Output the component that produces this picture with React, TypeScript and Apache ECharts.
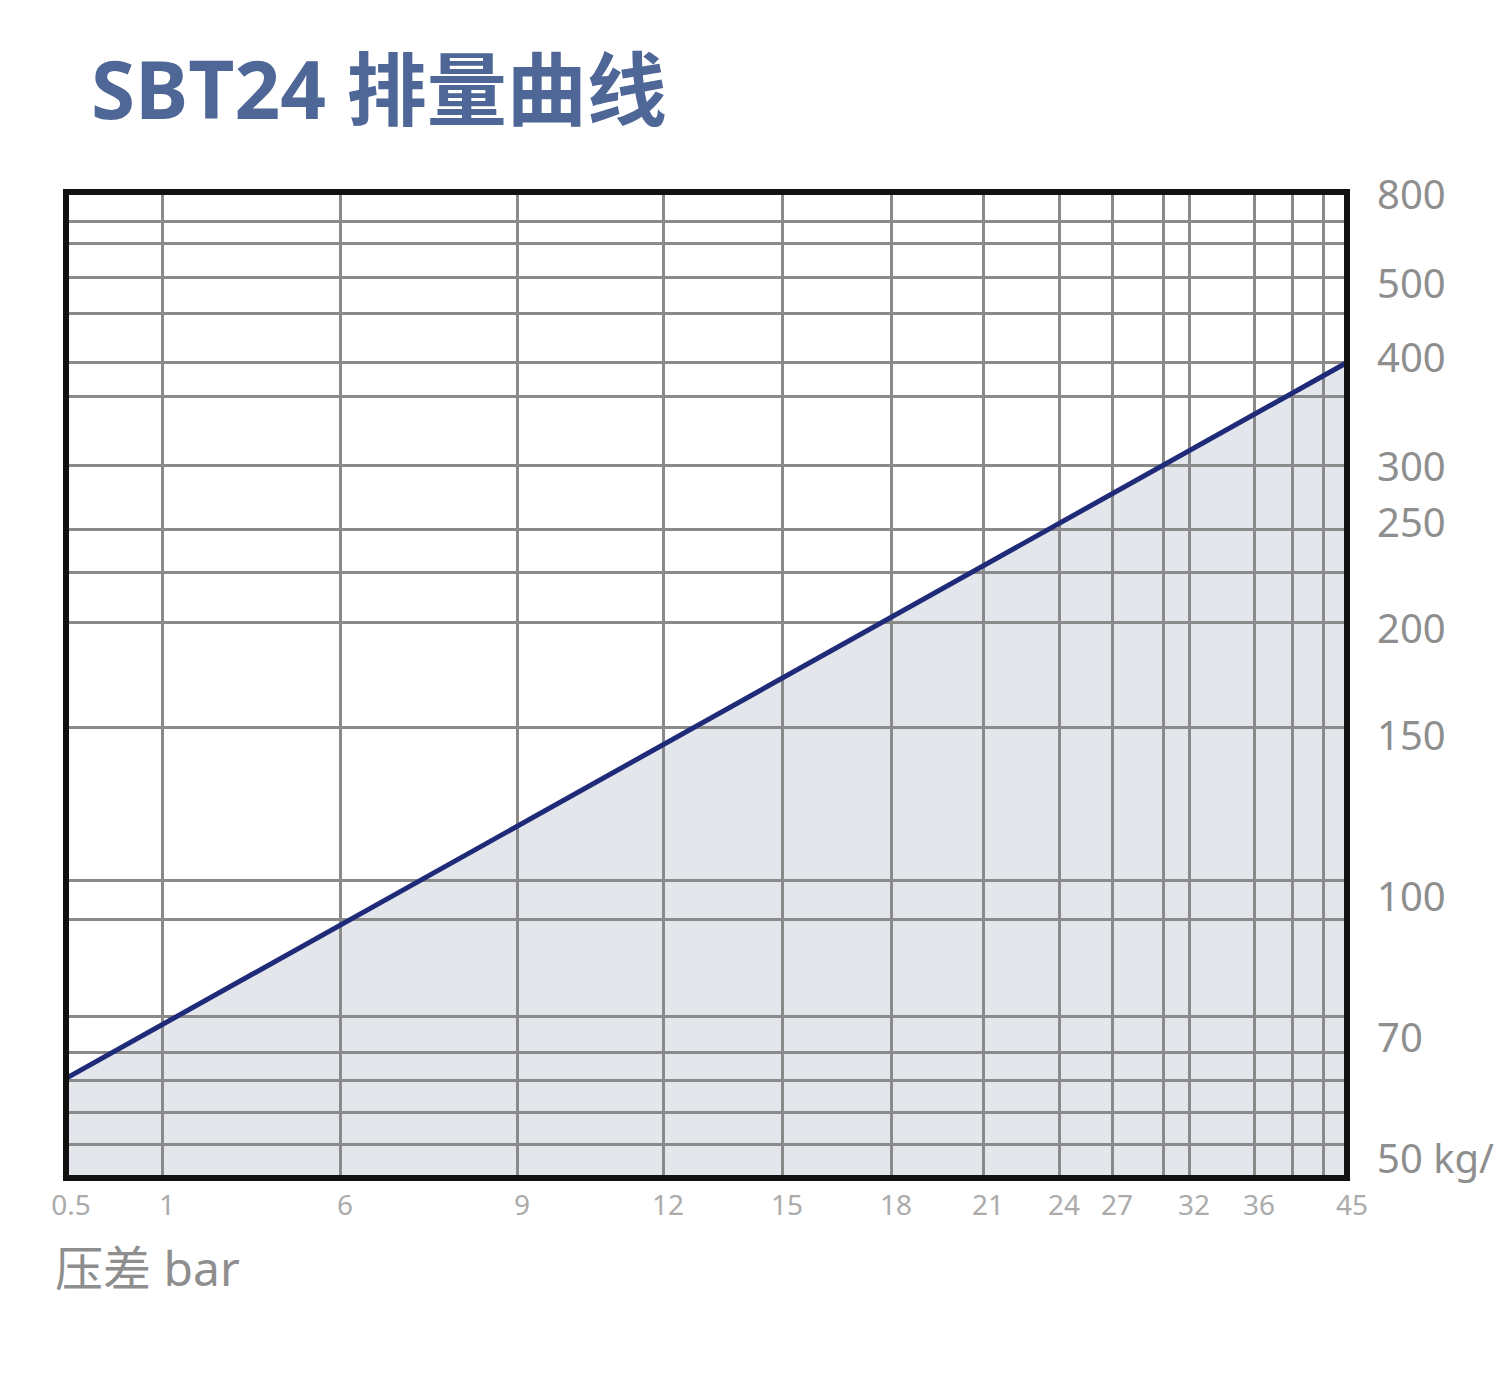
import React, { useEffect, useRef } from "react";
import * as echarts from "echarts";

// ---- data ----
const titleText = "SBT24 排量曲线";
const xAxisTitle = "压差 bar";
const pressureTicks = [0.5, 1, 6, 9, 12, 15, 18, 21, 24, 27, 32, 36, 45]; // bar
const flowTicks = [50, 70, 100, 150, 200, 250, 300, 400, 500, 800]; // kg/h
const flowUnit = "kg/";
// displacement curve (straight on this chart's non-uniform scales)
const pressure = [0.5, 45];
const flow = [63, 394];

// ---- non-uniform scale geometry (axis units along each axis) ----
const X_LEN = 1281;
const Y_LEN = 986;
const pressureStops = [0, 96, 274, 451, 597, 716, 825, 917, 993, 1046, 1123, 1188, 1281];
const flowStops = [21, 142, 283, 444, 551, 657, 713, 822, 896, 985];
const xGridLines = [96, 274, 451, 597, 716, 825, 917, 993, 1046, 1097, 1123, 1188, 1226, 1257];
const yGridLines = [957, 935, 901, 865, 816, 782, 713, 649, 606, 556, 451, 298, 259, 162, 126, 98, 66, 34];

const interp = (v: number, vals: number[], stops: number[]) => {
  let i = 0;
  if (v >= vals[vals.length - 1]) i = vals.length - 2;
  else if (v > vals[0]) {
    while (v > vals[i + 1]) i++;
  }
  const t = (v - vals[i]) / (vals[i + 1] - vals[i]);
  return stops[i] + t * (stops[i + 1] - stops[i]);
};
const toX = (p: number) => interp(p, pressureTicks, pressureStops);
const toY = (f: number) => interp(f, flowTicks, flowStops);

const FONT = '"Noto Sans", "Noto Sans CJK SC", sans-serif';

export default function App() {
  const ref = useRef<HTMLDivElement>(null);
  useEffect(() => {
    document.body.style.margin = "0";
    if (!ref.current) return;
    const chart = echarts.init(ref.current, undefined, { renderer: "svg" });
    const curve = pressure.map((p, i) => [toX(p), toY(flow[i])]);
    const xLabelVals = pressureTicks.map(toX);
    const yLabelVals = flowTicks.map(toY);
    const findLabel = (v: number, stops: number[], ticks: number[]) => {
      let best = 0;
      stops.forEach((s, i) => {
        if (Math.abs(s - v) < Math.abs(stops[best] - v)) best = i;
      });
      return ticks[best];
    };
    chart.setOption({
      animation: false,
      backgroundColor: "#ffffff",
      title: [
        {
          text: titleText,
          left: 86,
          top: 42,
          textStyle: { fontSize: 80, fontWeight: "bold", color: "#4e6796", fontFamily: FONT },
        },
        {
          text: xAxisTitle,
          left: 50,
          top: 1238,
          textStyle: { fontSize: 48, fontWeight: "normal", color: "#8e8e8e", fontFamily: FONT },
        },
      ],
      grid: {
        left: 66,
        top: 192,
        width: X_LEN,
        height: Y_LEN,
        show: true,
        z: 10,
        borderColor: "#111111",
        borderWidth: 6,
        backgroundColor: "transparent",
        containLabel: false,
        outerBoundsMode: "none",
      },
      xAxis: {
        type: "value",
        min: 0,
        max: X_LEN,
        axisLine: { show: false },
        axisTick: { show: false },
        splitLine: { show: false },
        axisLabel: {
          customValues: xLabelVals,
          formatter: (v: number) => String(findLabel(v, xLabelVals, pressureTicks)),
          color: "#ababab",
          fontSize: 28,
          fontFamily: FONT,
          margin: 12,
          padding: [0, 0, 0, 10],
        },
      },
      yAxis: {
        type: "value",
        position: "right",
        min: 0,
        max: Y_LEN,
        axisLine: { show: false },
        axisTick: { show: false },
        splitLine: { show: false },
        axisLabel: {
          customValues: yLabelVals,
          formatter: (v: number) => {
            const f = findLabel(v, yLabelVals, flowTicks);
            return f === flowTicks[0] ? `${f} ${flowUnit}` : String(f);
          },
          color: "#8e8e8e",
          fontSize: 40,
          fontFamily: FONT,
          margin: 30,
        },
      },
      series: [
        {
          type: "line",
          data: curve,
          showSymbol: false,
          lineStyle: { width: 0 },
          areaStyle: { color: "#e3e6eb", opacity: 1 },
          z: 1,
          silent: true,
        },
        {
          type: "line",
          data: [],
          silent: true,
          markLine: {
            silent: true,
            symbol: ["none", "none"],
            label: { show: false },
            lineStyle: { color: "#8a8a8a", width: 3, type: "solid" },
            emphasis: { disabled: true },
            data: [
              ...xGridLines.map((v) => ({ xAxis: v })),
              ...yGridLines.map((v) => ({ yAxis: v })),
            ],
          },
        },
        {
          type: "line",
          data: curve,
          showSymbol: false,
          lineStyle: { color: "#1f2b78", width: 5 },
          z: 8,
          silent: true,
        },
      ],
    });
    return () => chart.dispose();
  }, []);
  return <div ref={ref} style={{ width: 1509, height: 1376 }} />;
}
